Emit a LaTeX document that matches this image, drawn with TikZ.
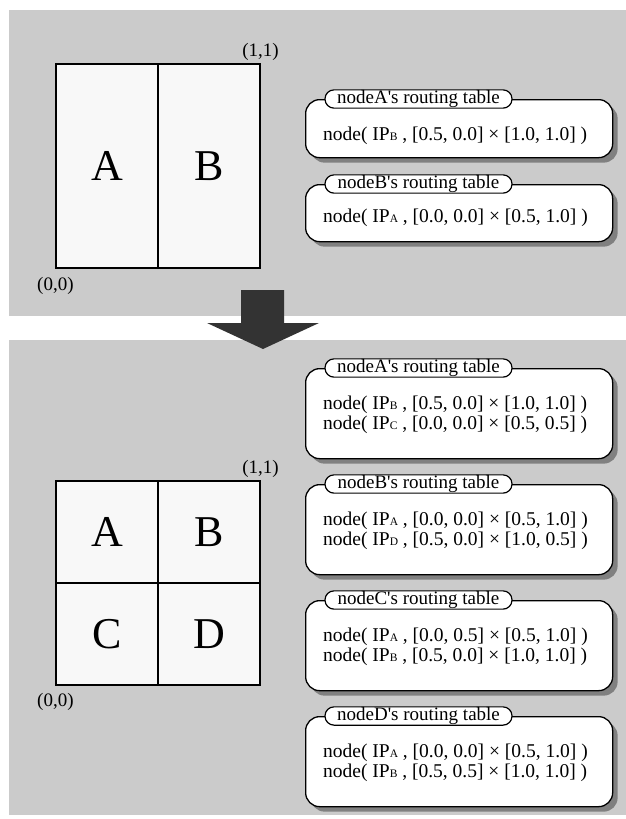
\documentclass[tikz,border=0pt]{standalone}
\usepackage{fontspec}
\setmainfont{Liberation Serif}
\usetikzlibrary{positioning,shadows}

\definecolor{panelgray}{RGB}{203,203,203}
\definecolor{cellfill}{RGB}{248,248,248}
\definecolor{arrowgray}{RGB}{51,51,51}
\definecolor{shadowgray}{RGB}{128,128,128}

\newcommand{\ip}[1]{IP{\fontsize{11.5}{12}\selectfont #1}}

\begin{document}
\begin{tikzpicture}[
    x=1pt, y=-1pt,
    panel/.style={fill=panelgray},
    cell/.style={draw, line width=1.2pt, fill=cellfill,
        minimum width=102pt, minimum height=#1, inner sep=0pt,
        font=\fontsize{44}{44}\selectfont},
    cornerlabel/.style={inner sep=0pt, font=\fontsize{19}{19}\selectfont},
    rtable/.style={draw, line width=1.3pt, fill=white, rounded corners=14pt,
        anchor=north west, minimum width=307pt, minimum height=#1,
        drop shadow={shadow xshift=5pt, shadow yshift=-5pt,
            fill=shadowgray, opacity=1}},
    rtitle/.style={draw, line width=1.2pt, fill=white, rounded corners=9pt,
        minimum width=187pt, minimum height=18pt, inner ysep=0.5pt,
        font=\fontsize{19}{19}\selectfont},
    rline/.style={anchor=base west, inner sep=0pt,
        font=\fontsize{19.5}{19.5}\selectfont}
]
\useasboundingbox (0,0) rectangle (626,819);

% grey panels
\fill[panel] (9,10) rectangle (626,316);
\fill[panel] (9,340) rectangle (626,815);

% before: two zones
\node[cell=204pt] (oldA) at (107,166) {A};
\node[cell=204pt] (oldB) at (209,166) {B};
\node[cornerlabel, above=3pt of oldB.north east] (oldone) {(1,1)};
\node[cornerlabel, below=9pt of oldA.south west] (oldzero) {(0,0)};

\node[rtable=58pt] (oldtabA) at (305,99) {};
\node[rtitle] (oldtabAtitle) at (418.5,99) {nodeA\textquotesingle s routing table};
\node[rline] (oldtabAline) at (323,140) {node( \ip{B} , [0.5, 0.0] × [1.0, 1.0] )};

\node[rtable=57pt] (oldtabB) at (305,184) {};
\node[rtitle] (oldtabBtitle) at (418.5,184) {nodeB\textquotesingle s routing table};
\node[rline] (oldtabBline) at (323,222) {node( \ip{A} , [0.0, 0.0] × [0.5, 1.0] )};

% arrow
\fill[arrowgray] (241,290) -- (284,290) -- (284,323) -- (319,323)
    -- (263,349) -- (207,323) -- (241,323) -- cycle;

% after: four zones
\node[cell=102pt] (newA) at (107,532) {A};
\node[cell=102pt] (newB) at (209,532) {B};
\node[cell=102pt] (newC) at (107,634) {C};
\node[cell=102pt] (newD) at (209,634) {D};
\node[cornerlabel, above=3pt of newB.north east] (newone) {(1,1)};
\node[cornerlabel, below=8pt of newC.south west] (newzero) {(0,0)};

\foreach \nm/\ytop/\la/\lb in {
    A/368/{\ip{B} , [0.5, 0.0] × [1.0, 1.0]}/{\ip{C} , [0.0, 0.0] × [0.5, 0.5]},
    B/484/{\ip{A} , [0.0, 0.0] × [0.5, 1.0]}/{\ip{D} , [0.5, 0.0] × [1.0, 0.5]},
    C/600/{\ip{A} , [0.0, 0.5] × [0.5, 1.0]}/{\ip{B} , [0.5, 0.0] × [1.0, 1.0]},
    D/716/{\ip{A} , [0.0, 0.0] × [0.5, 1.0]}/{\ip{B} , [0.5, 0.5] × [1.0, 1.0]}} {
    \node[rtable=90pt] (newtab\nm) at (305,\ytop) {};
    \node[rtitle] (newtab\nm title) at (418.5,\ytop) {node\nm\textquotesingle s routing table};
    \node[rline] (newtab\nm one) at (323,\ytop+41) {node( \la{} )};
    \node[rline] (newtab\nm two) at (323,\ytop+61) {node( \lb{} )};
}

\end{tikzpicture}
\end{document}
